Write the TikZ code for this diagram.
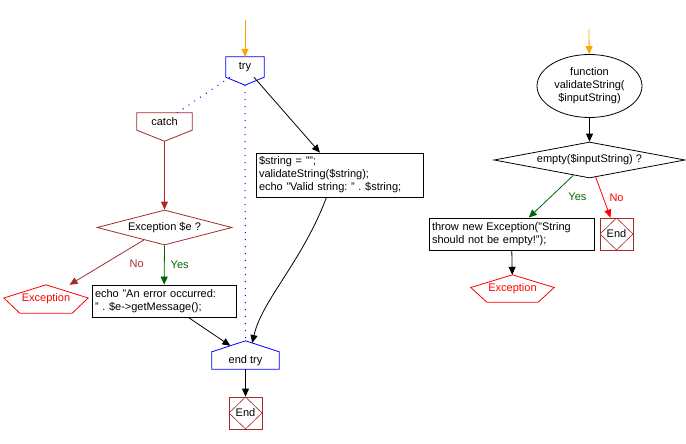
\documentclass[tikz,border=0pt]{standalone}
\usepackage{fontspec}
\setmainfont{Liberation Sans}
\frenchspacing
\usetikzlibrary{shapes.geometric, arrows.meta, positioning, calc}
\definecolor{tryblue}{HTML}{0000FF}
\definecolor{catchbrown}{HTML}{A52A2A}
\definecolor{excred}{HTML}{FF0000}
\definecolor{yesgreen}{HTML}{006400}
\definecolor{startorange}{HTML}{FFA500}

\begin{document}
\begin{tikzpicture}[x=1pt, y=-1pt,
  every node/.style={font=\fontsize{11}{13}\selectfont, inner sep=0pt},
  sigbox/.style={rectangle},
  cond/.style={diamond, draw, line width=0.8pt, aspect=4},
  stmt/.style={draw, line width=0.8pt, align=left, inner xsep=3pt},
  excnode/.style={text=excred, minimum width=84pt, minimum height=28pt},
  excline/.style={draw=excred, line width=0.8pt},
  endbox/.style={draw=catchbrown, line width=0.8pt, minimum width=33pt, minimum height=32pt,
    path picture={\draw[catchbrown, line width=0.6pt] (path picture bounding box.north) -- (path picture bounding box.east)
      -- (path picture bounding box.south) -- (path picture bounding box.west) -- cycle;}},
  arr/.style={-{Triangle[length=8pt, width=7pt]}, line width=0.8pt},
  dotline/.style={tryblue, line width=1pt, dash pattern=on 1pt off 6pt},
]
\useasboundingbox (0,0) rectangle (686,444);

% try / catch side
\coordinate (start1) at (245,20);
\node[sigbox, minimum width=38pt, minimum height=20pt] (try) at (245,67) {try};
\node[sigbox, minimum width=55pt, minimum height=17pt] (catch) at (164.5,121.5) {catch};
\node[cond, draw=catchbrown, minimum width=135pt, minimum height=35pt] (d1) at (164.5,227.5) {Exception \$e ?};
\node[excnode] (ex1) at (46,299) {Exception};
\node[stmt, minimum width=144pt, minimum height=32pt, text width=138pt] (echo) at (164,301)
  {echo "An error occurred:\\" . \$e->getMessage();};
\node[stmt, minimum width=167pt, minimum height=44pt, text width=161pt] (b1) at (339.5,175)
  {\$string = "";\\validateString(\$string);\\echo "Valid string: " . \$string;};
\node[sigbox, minimum width=67pt, minimum height=17pt] (endtry) at (245.5,360.5) {end try};
\node[endbox] (end1) at (245.5,413) {End};

% function
\coordinate (start2) at (589,29);
\node[ellipse, draw, line width=0.8pt, minimum width=105pt, minimum height=63pt, align=center] (fn) at (589.5,86)
  {function\\validateString(\\\$inputString)};
\node[cond, aspect=5.3, minimum width=191pt, minimum height=36pt] (d2) at (589.5,160) {empty(\$inputString) ?};
\node[stmt, minimum width=165pt, minimum height=32pt, text width=159pt] (thr) at (511.5,234)
  {throw new Exception("String\\should not be empty!");};
\node[endbox] (end2) at (616.5,234) {End};
\node[excnode, minimum width=83pt, minimum height=27pt] (ex2) at (512.5,288.5) {Exception};

% outlines of the pointed boxes
\foreach \n/\d/\c in {try/8/tryblue, catch/11/catchbrown}
  \draw[\c, line width=0.8pt] (\n.north west) -- (\n.north east) -- (\n.south east)
    -- ($(\n.south)+(0,\d)$) coordinate (\n-tip) -- (\n.south west) -- cycle;
\draw[tryblue, line width=0.8pt] (endtry.south west) -- (endtry.south east) -- (endtry.north east)
  -- ($(endtry.north)+(0,-11)$) coordinate (endtry-tip) -- (endtry.north west) -- cycle;
\foreach \e in {ex1, ex2}
  \draw[excline] (\e.north) -- ($(\e.east)+(0,-1)$) -- ($(\e.south east)+(-16,0)$)
    -- ($(\e.south west)+(16,0)$) -- ($(\e.west)+(0,-1)$) -- cycle;

\draw[arr, startorange] (start1) -- (try);
\draw[arr, startorange] (start2) -- (fn);
\draw[dotline] (try) -- (catch);
\draw[dotline] (try-tip) -- (endtry-tip);

\draw[arr, catchbrown] (catch-tip) -- (d1);
\draw[arr, catchbrown] (d1) -- node[pos=0.25, below right=8pt and 4pt, text=catchbrown] (no1) {No} (ex1);
\draw[arr, yesgreen] (d1.south) -- node[right=6pt, text=yesgreen] (yes1) {Yes} (echo);
\draw[arr, yesgreen] (d2) -- node[pos=0.5, right=17pt, text=yesgreen] (yes2) {Yes} (thr);
\draw[arr, excred] (d2) -- node[pos=0.5, right=6pt, text=excred] (no2) {No} (end2);

\foreach \i/\j in {try/b1, endtry/end1, fn/d2, thr/ex2}
  \draw[arr] (\i) -- (\j);
\draw[arr] (echo) -- ($(endtry.north west)!0.55!(endtry-tip)$);
\draw[arr] ([xshift=-13pt]b1.south) .. controls (302,262) and (262,300) .. ($(endtry-tip)!0.2!(endtry.north east)$);

\end{tikzpicture}
\end{document}
